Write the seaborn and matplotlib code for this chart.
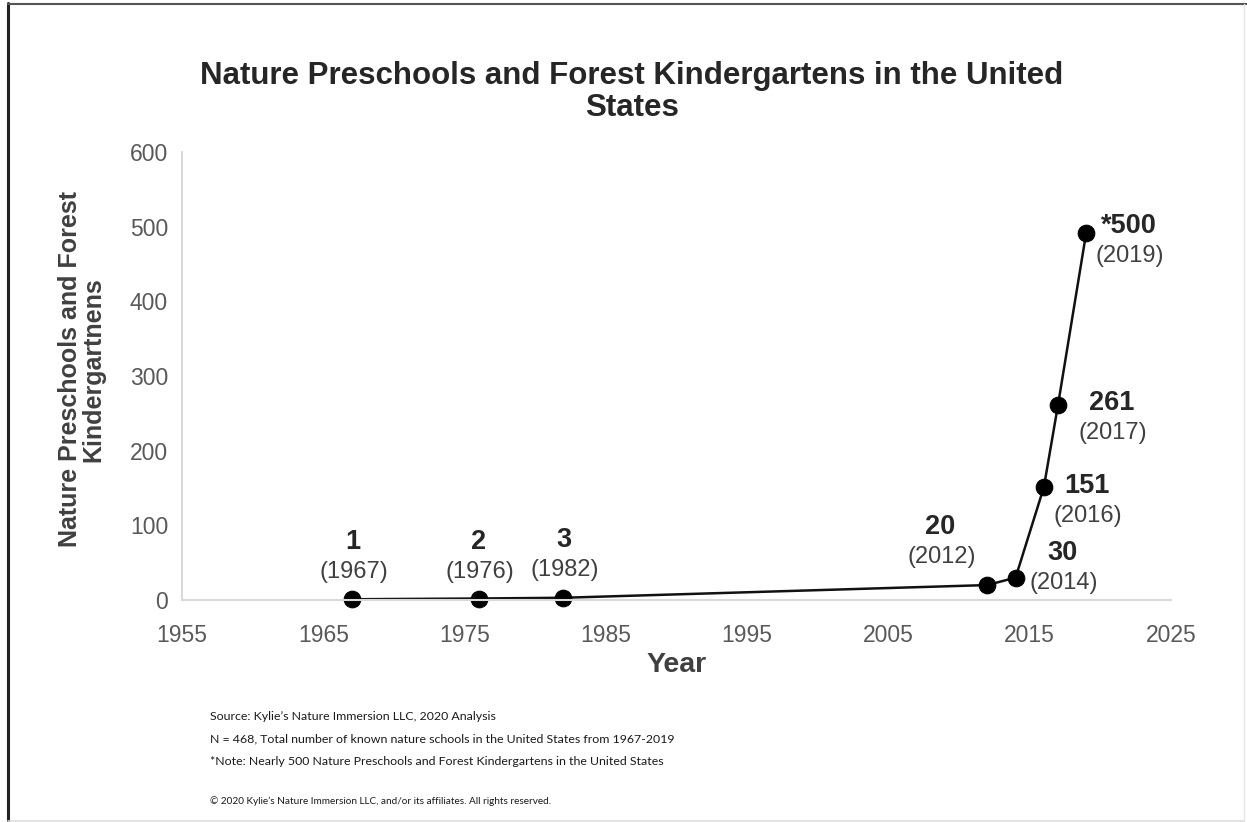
import pandas as pd
import matplotlib.pyplot as plt
import seaborn as sns
from matplotlib.lines import Line2D

# values
years = [1967, 1976, 1982, 2012, 2014, 2016, 2017, 2019]
schools = [1, 2, 3, 20, 30, 151, 261, 492]
value_labels = ["1", "2", "3", "20", "30", "151", "261", "*500"]

# label offsets from each point (pixels)
label_offsets = [(1, 57), (0, 57), (0, 58), (-47, 58), (47, 25), (43, 1), (54, 2), (43, 7)]

df = pd.DataFrame({"Year": years, "Schools": schools})

sns.set_theme(style="white")
plt.rcParams["font.family"] = ["Liberation Sans", "DejaVu Sans"]

fig = plt.figure(figsize=(12.47, 8.22), dpi=100)
ax = fig.add_axes([182 / 1247, 1 - 600 / 822, (1171 - 182) / 1247, (600 - 152) / 822])

sns.lineplot(data=df, x="Year", y="Schools", ax=ax, color="#111111", linewidth=1.8,
             marker="o", markersize=12, markeredgecolor="black", markerfacecolor="black",
             clip_on=False)

ax.set_xlim(1955, 2025)
ax.set_ylim(0, 600)
ax.set_xticks(range(1955, 2026, 10))
ax.set_yticks(range(0, 601, 100))
ax.tick_params(axis="both", labelsize=16.5, labelcolor="#595959", length=0)
ax.tick_params(axis="x", pad=17)
ax.tick_params(axis="y", pad=10)
for side in ["top", "right"]:
    ax.spines[side].set_visible(False)
for side in ["left", "bottom"]:
    ax.spines[side].set_color("#d9d9d9")
    ax.spines[side].set_linewidth(1.5)

ax.set_xlabel("Year", fontsize=20.5, fontweight="bold", color="#404040", labelpad=4)
ax.set_ylabel("Nature Preschools and Forest\nKindergartnens", fontsize=18, fontweight="bold",
              color="#404040", linespacing=1.0)
ax.yaxis.set_label_coords(-0.077, 0.515)

for x, y, lab, (dx, dy) in zip(years, schools, value_labels, label_offsets):
    ax.annotate(lab, (x, y), xytext=(dx, dy), textcoords="offset pixels", ha="center",
                va="center", fontsize=19.5, fontweight="bold", color="#262626")
    ax.annotate(f"({x})", (x, y), xytext=(dx + 1, dy - 30), textcoords="offset pixels",
                ha="center", va="center", fontsize=17, color="#404040")

fig.text(632 / 1247, 1 - 92 / 822, "Nature Preschools and Forest Kindergartens in the United\nStates",
         ha="center", va="center", fontsize=22.5, fontweight="bold", color="#262626", linespacing=1.12)

notes = ["Source: Kylie\u2019s Nature Immersion LLC, 2020 Analysis",
         "N = 468, Total number of known nature schools in the United States from 1967-2019",
         "*Note: Nearly 500 Nature Preschools and Forest Kindergartens in the United States"]
for i, line in enumerate(notes):
    fig.text(210 / 1247, 1 - (716 + 22.5 * i) / 822, line, ha="left", va="center",
             fontsize=8.9, family="Lato", color="#1a1a1a")
fig.text(210 / 1247, 1 - 801 / 822,
         "\u00a9 2020 Kylie\u2019s Nature Immersion LLC, and/or its affiliates. All rights reserved.",
         ha="left", va="center", fontsize=7.2, family="Lato", color="#1a1a1a")

# frame around the picture
fig.add_artist(Line2D([8 / 1247, 8 / 1247], [0, 1 - 3 / 822], transform=fig.transFigure,
                      color="#222222", linewidth=2.2))
fig.add_artist(Line2D([8 / 1247, 1], [1 - 4 / 822, 1 - 4 / 822], transform=fig.transFigure,
                      color="#555555", linewidth=1.5))
fig.add_artist(Line2D([8 / 1247, 1244 / 1247], [1.5 / 822, 1.5 / 822], transform=fig.transFigure,
                      color="#dddddd", linewidth=1.2))
fig.add_artist(Line2D([1244 / 1247, 1244 / 1247], [1.5 / 822, 1 - 4 / 822], transform=fig.transFigure,
                      color="#e6e6e6", linewidth=1.0))

fig.savefig("out.png", dpi=100)
